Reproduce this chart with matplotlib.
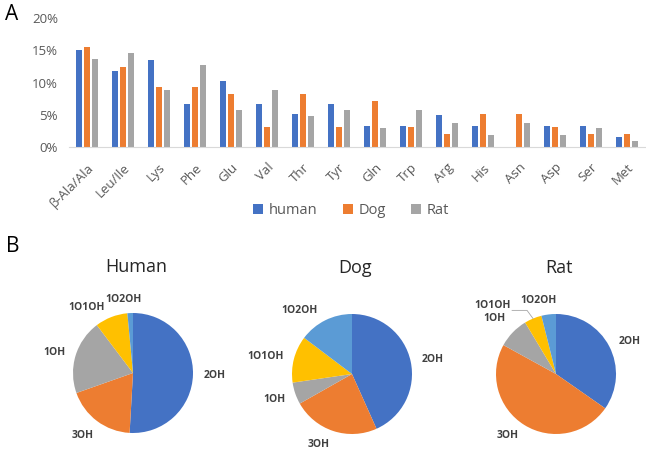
import numpy as np
import matplotlib.pyplot as plt

plt.rcParams['font.family'] = ['Open Sans', 'DejaVu Sans']

amino = ["β-Ala/Ala", "Leu/Ile", "Lys", "Phe", "Glu", "Val", "Thr", "Tyr",
         "Gln", "Trp", "Arg", "His", "Asn", "Asp", "Ser", "Met"]
human = [15.1, 11.8, 13.5, 6.7, 10.2, 6.7, 5.1, 6.7,
         3.3, 3.3, 5.0, 3.3, 0.0, 3.3, 3.3, 1.6]
dog = [15.5, 12.4, 9.3, 9.3, 8.3, 3.1, 8.3, 3.1,
       7.2, 3.1, 2.1, 5.2, 5.2, 3.1, 2.0, 2.0]
rat = [13.7, 14.6, 8.8, 12.7, 5.8, 8.8, 4.9, 5.8,
       2.9, 5.8, 3.8, 1.9, 3.8, 1.9, 2.9, 0.9]

pie_labels = ["2OH", "3OH", "1OH", "1O1OH", "1O2OH"]
pie_human = [50.9, 18.7, 20.1, 8.8, 1.5]
pie_dog = [43.3, 23.5, 5.9, 12.6, 14.7]
pie_rat = [34.7, 48.3, 8.4, 4.7, 3.9]

blue, orange, gray = "#4472C4", "#ED7D31", "#A5A5A5"
pie_colors = [blue, orange, gray, "#FFC000", "#5B9BD5"]
txt = "#595959"

fig = plt.figure(figsize=(6.46, 4.5), dpi=100)

# ---- panel A: grouped bars
ax = fig.add_axes([0.107, 0.673, 0.891, 0.287])
x = np.arange(len(amino))
w = 0.17
step = 0.225
ax.bar(x - step, np.array(human) / 100, w, color=blue, label="human")
ax.bar(x, np.array(dog) / 100, w, color=orange, label="Dog")
ax.bar(x + step, np.array(rat) / 100, w, color=gray, label="Rat")
ax.set_xlim(-0.5, len(amino) - 0.5)
ax.set_ylim(0, 0.20)
ax.set_yticks([0, 0.05, 0.10, 0.15, 0.20])
ax.set_yticklabels(["0%", "5%", "10%", "15%", "20%"])
ax.set_xticks(x)
ax.set_xticklabels(amino, rotation=45, ha="right", rotation_mode="anchor")
for s in ["top", "right", "left"]:
    ax.spines[s].set_visible(False)
ax.spines["bottom"].set_color("#D9D9D9")
ax.tick_params(axis="both", length=0, colors=txt, labelsize=9.5)
ax.tick_params(axis="y", pad=8)
ax.tick_params(axis="x", pad=10)
ax.legend(loc="center", bbox_to_anchor=(0.49, -0.49), ncol=3,
          frameon=False, fontsize=10.5, handlelength=0.7, handleheight=0.7,
          columnspacing=1.7, handletextpad=0.4, labelcolor=txt)

fig.text(0.008, 0.968, "A", fontsize=15, va="center")
fig.text(0.010, 0.452, "B", fontsize=15, va="center")

# ---- panel B: pies
def draw_pie(cx, cy, vals, title, nudges):
    pa = fig.add_axes([cx / 646 - 120 / 646, 1 - cy / 450 - 120 / 450,
                       240 / 646, 240 / 450])
    wedges, labels = pa.pie(vals, labels=pie_labels, colors=pie_colors,
                            startangle=90, counterclock=False, radius=1,
                            labeldistance=1.18,
                            textprops=dict(fontsize=7.5, fontweight="bold",
                                           color="#404040"))
    for t, (dx, dy) in zip(labels, nudges):
        px, py = t.get_position()
        t.set_position((px + dx, py + dy))
    pa.set_xlim(-2, 2)
    pa.set_ylim(-2, 2)
    pa.set_aspect("equal")
    pa.axis("off")
    pa.text(0.05, 1.77, title, ha="center", va="center", fontsize=13,
            color="#262626")
    return pa, wedges, labels

draw_pie(133, 373, pie_human, "Human",
         [(0, 0), (0.05, -0.1), (0, 0), (-0.05, 0), (0.2, 0.05)])
draw_pie(352, 374, pie_dog, "Dog",
         [(0, 0), (0, -0.05), (0, -0.05), (0, 0), (-0.05, 0)])
pa, wd, lab = draw_pie(556, 374, pie_rat, "Rat",
                       [(0, 0), (0, -0.03), (0, 0.1), (-0.3, 0.05), (0.15, 0.05)])
# leader line from the 1O1OH label to its wedge
lx, ly = lab[3].get_position()
mid = np.deg2rad((wd[3].theta1 + wd[3].theta2) / 2)
ex, ey = np.cos(mid), np.sin(mid)
pa.plot([lx + 0.02, ex - 0.1, ex], [ly - 0.08, ly - 0.08, ey],
        color="#A5A5A5", lw=0.6)

fig.savefig("out.png", dpi=100)
